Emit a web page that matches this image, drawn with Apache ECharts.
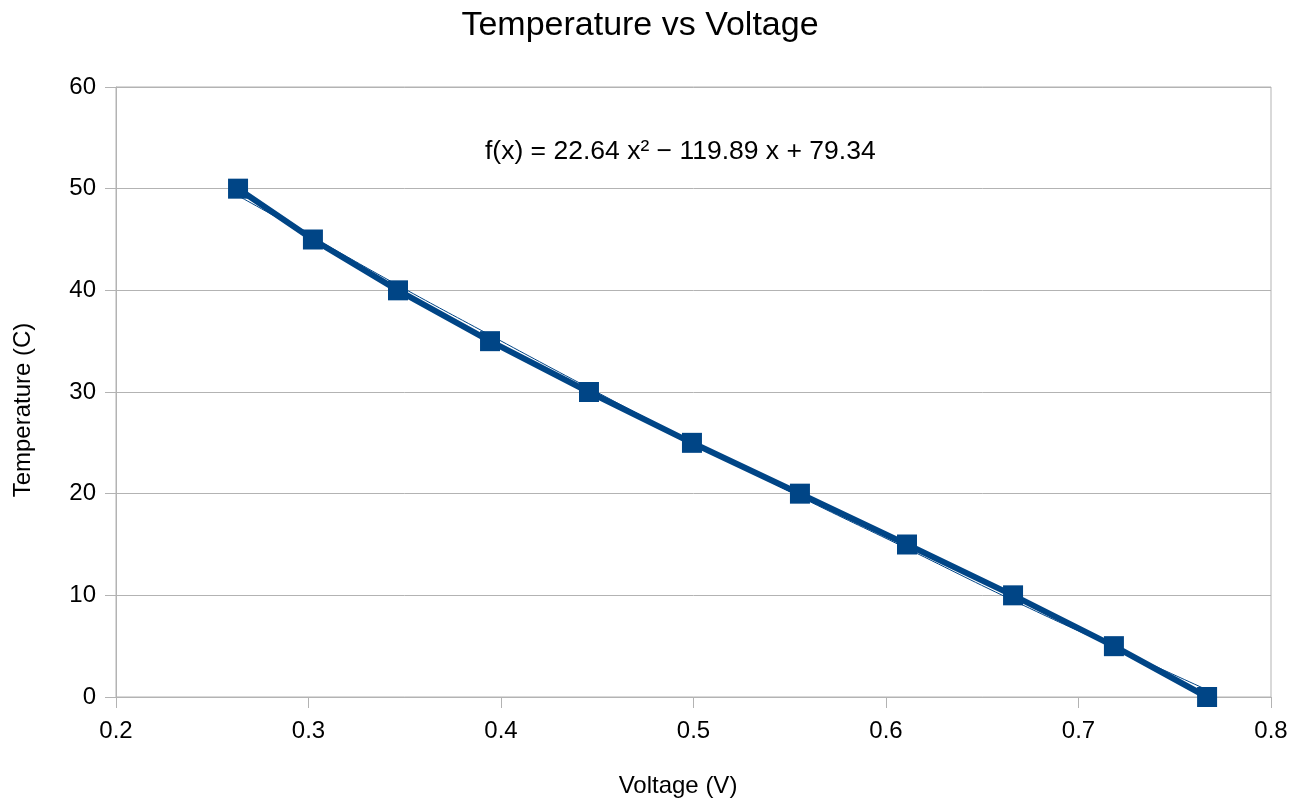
<!DOCTYPE html>
<html>
<head>
<meta charset="utf-8">
<title>Temperature vs Voltage</title>
<script src="https://cdn.jsdelivr.net/npm/echarts@6/dist/echarts.min.js"></script>
<style>
  html, body { margin: 0; padding: 0; background: #fff; }
  #main { width: 1303px; height: 798px; }
</style>
</head>
<body>
<div id="main"></div>
<script>
// measured points
const voltage = [0.2634, 0.3023, 0.3465, 0.3943, 0.4457, 0.4992, 0.5553, 0.6109, 0.666, 0.7184, 0.7668];
const temperature = [50, 45, 40, 35, 30, 25, 20, 15, 10, 5, 0];
// trend line as it sits in the picture
const trendTemp = [49.3, 45.2, 40.5, 35.6, 30.4, 25.1, 19.7, 14.6, 9.5, 4.9, 0.7];
const equationText = 'f(x) = 22.64 x\u00b2 \u2212 119.89 x + 79.34';

const blue = '#004586';
const font = '"Liberation Sans", Arial, sans-serif';

const chart = echarts.init(document.getElementById('main'));

const option = {
  animation: false,
  textStyle: { fontFamily: font },
  graphic: [
    {
      type: 'text',
      x: 640,
      y: 26,
      style: { text: 'Temperature vs Voltage', font: '34px ' + font, fill: '#000', align: 'center', verticalAlign: 'middle' }
    },
    {
      type: 'text',
      left: 485,
      top: 138,
      style: { text: equationText, font: '26.5px ' + font, fill: '#000' }
    },
    {
      type: 'text',
      x: 678,
      y: 786,
      style: { text: 'Voltage (V)', font: '24px ' + font, fill: '#000', align: 'center', verticalAlign: 'middle' }
    },
    {
      type: 'text',
      x: 23,
      y: 410,
      rotation: Math.PI / 2,
      style: { text: 'Temperature (C)', font: '24px ' + font, fill: '#000', align: 'center', verticalAlign: 'middle' }
    }
  ],
  grid: {
    left: 116,
    right: 32,
    top: 87,
    bottom: 101,
    outerBoundsMode: 'none',
    show: true,
    borderColor: '#b3b3b3',
    borderWidth: 1
  },
  xAxis: {
    type: 'value',
    min: 0.2,
    max: 0.8,
    interval: 0.1,
    axisLine: { show: true, lineStyle: { color: '#b3b3b3' } },
    axisTick: { show: true, length: 11, lineStyle: { color: '#b3b3b3' } },
    axisLabel: { fontSize: 24, color: '#000', margin: 22, formatter: v => v.toFixed(1) },
    splitLine: { show: false }
  },
  yAxis: {
    type: 'value',
    min: 0,
    max: 60,
    interval: 10,
    axisLine: { show: true, lineStyle: { color: '#b3b3b3' } },
    axisTick: { show: true, length: 11, lineStyle: { color: '#b3b3b3' } },
    axisLabel: { fontSize: 24, color: '#000', margin: 20 },
    splitLine: { show: true, lineStyle: { color: '#b3b3b3' } }
  },
  series: [
    {
      name: 'Trend',
      type: 'line',
      data: voltage.map((v, i) => [v, trendTemp[i]]),
      showSymbol: false,
      smooth: true,
      lineStyle: { color: blue, width: 1 },
      z: 1
    },
    {
      name: 'Temperature',
      type: 'line',
      data: voltage.map((v, i) => [v, temperature[i]]),
      symbol: 'rect',
      symbolSize: 20,
      itemStyle: { color: blue },
      lineStyle: { color: blue, width: 6 },
      z: 2
    }
  ]
};

chart.setOption(option);
</script>
</body>
</html>
